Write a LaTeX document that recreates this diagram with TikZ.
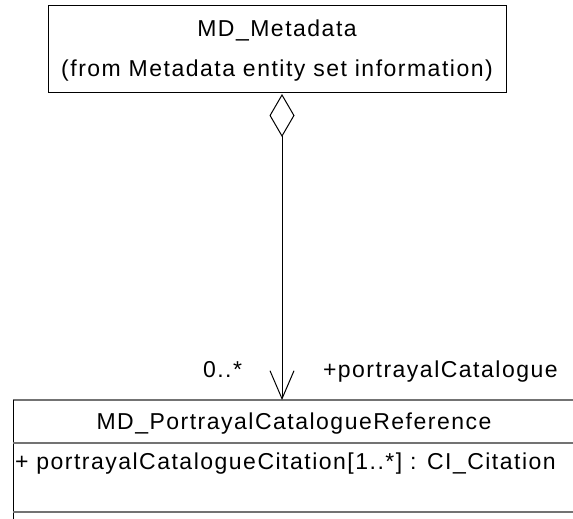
\documentclass[tikz,border=0pt]{standalone}
\usepackage{fontspec}
\setmainfont{Liberation Sans}[LetterSpace=6.5]
\usetikzlibrary{arrows.meta}
\begin{document}
\begin{tikzpicture}[x=1pt,y=-1pt,
  every node/.style={inner sep=0pt, outer sep=0pt},
  box/.style={draw=black, line width=1pt, rectangle},
  txt/.style={font=\fontsize{23}{27}\selectfont, anchor=base},
  sep/.style={draw=black!55, line width=1.4pt}]
\useasboundingbox (0,0) rectangle (573,519);
\clip (0,0) rectangle (573,519);
% top class
\node[box, minimum width=458pt, minimum height=86pt] (meta) at (277,49) {};
\node[txt] (metaname) at (277,37) {MD\_Metadata};
\node[txt] (metafrom) at (277,76.5) {(from Metadata entity set information)};
% bottom class
\node[draw=none, minimum width=600pt, minimum height=140pt, anchor=north west] (ref) at (13,400) {};
\draw[sep] (ref.north west) -- (ref.north east);
\draw[line width=1pt] (ref.north west) -- (ref.south west);
\coordinate (d1) at (13,443);
\coordinate (d2) at (13,512);
\draw[sep] (d1) -- (d1 -| ref.east);
\draw[sep] (d2) -- (d2 -| ref.east);
\node[txt] (refname) at (294,429.5) {MD\_PortrayalCatalogueReference};
\node[txt, anchor=base west] (refattr) at (15,469.5) {+ portrayalCatalogueCitation[1..*] : CI\_Citation};
% association
\coordinate (lx) at (282,0);
\draw[line width=1pt, {Diamond[open, length=43pt, width=25pt, line width=1pt]}-{Straight Barb[length=28pt, width=24pt, line width=1pt]}, shorten <=2pt]
  (meta.south -| lx) -- (ref.north -| lx);
\node[txt, anchor=base west] (mult) at (203,377) {0..*};
\node[txt, anchor=base west] (role) at (323,377) {+portrayalCatalogue};
\end{tikzpicture}
\end{document}
